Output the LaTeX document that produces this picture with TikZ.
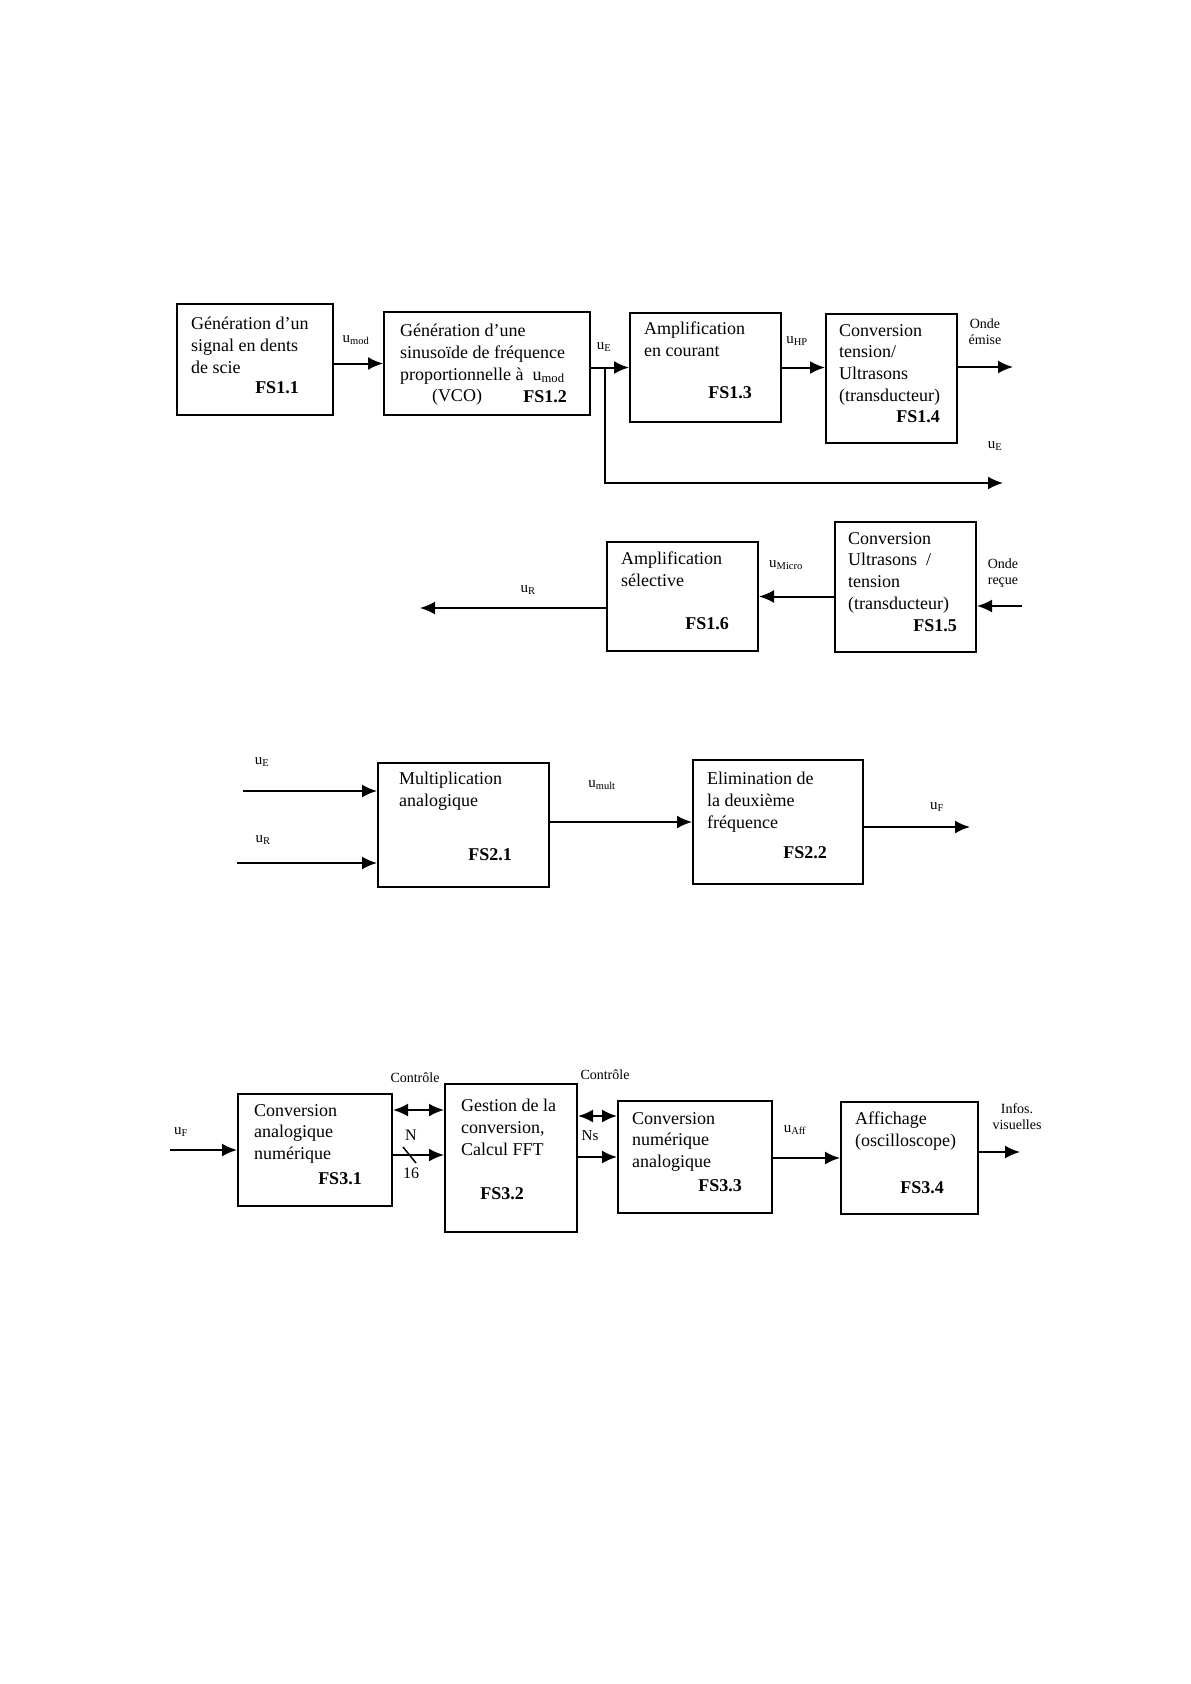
\documentclass[tikz,border=0pt]{standalone}
\usepackage{fontspec}
\setmainfont{Liberation Serif}
\usetikzlibrary{arrows.meta,positioning}

\begin{document}
\begin{tikzpicture}[x=1pt,y=-1pt,
  every node/.append style={inner sep=0pt},
  box/.style={draw,line width=2pt,rectangle},
  txt/.style={anchor=north west,align=left,font=\fontsize{18}{21.7}\selectfont},
  fs/.style={font=\fontsize{18}{21.7}\selectfont\bfseries},
  sig/.style={font=\fontsize{15}{16}\selectfont},
  lbl/.style={align=center,font=\fontsize{14}{16}\selectfont},
  arr/.style={line width=2pt,-{Latex[length=15pt,width=13pt]}},
  darr/.style={line width=2pt,{Latex[length=15pt,width=13pt]}-{Latex[length=15pt,width=13pt]}}]
\useasboundingbox (0,0) rectangle (1191,1684);
\node [box,minimum width=156pt,minimum height=111pt] (b11) at (255,359.5) {};
\node [txt] (b11t) at ([shift={(15,14)}]b11.north west) {Génération d'un\\signal en dents\\de scie};
\node [fs] (b11f) at (277,388) {FS1.1};
\node [box,minimum width=206pt,minimum height=103pt] (b12) at (487,363.5) {};
\node [txt] (b12t) at ([shift={(17,13)}]b12.north west) {Génération d'une\\sinusoïde de fréquence\\proportionnelle à~ u\textsubscript{mod}};
\node [txt,anchor=center] (b12v) at (457,397) {(VCO)};
\node [fs] (b12f) at (545,397) {FS1.2};
\node [box,minimum width=151pt,minimum height=109pt] (b13) at (705.5,367.5) {};
\node [txt] (b13t) at ([shift={(15,10)}]b13.north west) {Amplification\\en courant};
\node [fs] (b13f) at (730,393) {FS1.3};
\node [box,minimum width=131pt,minimum height=129pt] (b14) at (891.5,378.5) {};
\node [txt] (b14t) at ([shift={(14,11)}]b14.north west) {Conversion\\tension/\\Ultrasons\\(transducteur)};
\node [fs] (b14f) at (918,417) {FS1.4};
\node [box,minimum width=151pt,minimum height=109pt] (b16) at (682.5,596.5) {};
\node [txt] (b16t) at ([shift={(15,11)}]b16.north west) {Amplification\\sélective};
\node [fs] (b16f) at (707,624) {FS1.6};
\node [box,minimum width=141pt,minimum height=130pt] (b15) at (905.5,587) {};
\node [txt] (b15t) at ([shift={(14,11)}]b15.north west) {Conversion\\Ultrasons~~/\\tension\\(transducteur)};
\node [fs] (b15f) at (935,626) {FS1.5};
\node [box,minimum width=171pt,minimum height=124pt] (b21) at (463.5,825) {};
\node [txt] (b21t) at ([shift={(22,10)}]b21.north west) {Multiplication\\analogique};
\node [fs] (b21f) at (490,855) {FS2.1};
\node [box,minimum width=170pt,minimum height=124pt] (b22) at (778,822) {};
\node [txt] (b22t) at ([shift={(15,13)}]b22.north west) {Elimination de\\la deuxième\\fréquence};
\node [fs] (b22f) at (805,853) {FS2.2};
\node [box,minimum width=154pt,minimum height=112pt] (b31) at (315,1150) {};
\node [txt] (b31t) at ([shift={(17,11)}]b31.north west) {Conversion\\analogique\\numérique};
\node [fs] (b31f) at (340,1179) {FS3.1};
\node [box,minimum width=132pt,minimum height=148pt] (b32) at (511,1158) {};
\node [txt] (b32t) at ([shift={(17,16)}]b32.north west) {Gestion de la\\conversion,\\Calcul FFT};
\node [fs] (b32f) at (502,1194) {FS3.2};
\node [box,minimum width=154pt,minimum height=112pt] (b33) at (695,1157) {};
\node [txt] (b33t) at ([shift={(15,12)}]b33.north west) {Conversion\\numérique\\analogique};
\node [fs] (b33f) at (720,1186) {FS3.3};
\node [box,minimum width=137pt,minimum height=112pt] (b34) at (909.5,1158) {};
\node [txt] (b34t) at ([shift={(15,11)}]b34.north west) {Affichage\\(oscilloscope)};
\node [fs] (b34f) at (922,1188) {FS3.4};
\coordinate (emise) at (1013,367);
\coordinate (ueout) at (1003,483);
\coordinate (recue) at (1022,606);
\coordinate (urout) at (420,608);
\coordinate (ue2) at (243,791);
\coordinate (ur2) at (237,863);
\coordinate (uf2) at (970,827);
\coordinate (uf3) at (170,1150);
\coordinate (infos) at (1020,1152);
\draw [arr] (b11.east |- b12.west) -- (b12.west);
\draw [arr] (b12.east |- b13.west) -- (b13.west);
\draw [arr] ([xshift=14pt]b12.east |- b13.west) |- (ueout);
\draw [arr] (b13.east) -- (b13.east -| b14.west);
\draw [arr] (b14.east |- emise) -- (emise);
\draw [arr] (recue) -- (recue -| b15.east);
\draw [arr] (b15.west |- b16.east) -- (b16.east);
\draw [arr] (b16.west |- urout) -- (urout);
\draw [arr] (ue2) -- (ue2 -| b21.west);
\draw [arr] (ur2) -- (ur2 -| b21.west);
\draw [arr] (b21.east |- b22.west) -- (b22.west);
\draw [arr] (b22.east |- uf2) -- (uf2);
\draw [arr] (uf3) -- (uf3 -| b31.west);
\draw [darr] ([yshift=-17pt]b31.north east) -- ([yshift=-17pt]b31.north east -| b32.west);
\draw [arr] ([yshift=-5pt]b31.east) -- ([yshift=-5pt]b31.east -| b32.west);
\draw [line width=1.5pt] (403,1147) -- (416,1163);
\draw [darr] ([yshift=-16pt]b33.north west -| b32.east) -- ([yshift=-16pt]b33.north west);
\draw [arr] (b32.east |- b33.west) -- (b33.west);
\draw [arr] (b33.east |- b34.west) -- (b34.west);
\draw [arr] (b34.east |- infos) -- (infos);
\node [sig] (lmod) at (356,340) {u\textsubscript{mod}};
\node [sig] (le1) at (604,347) {u\textsubscript{E}};
\node [sig] (lhp) at (797,341) {u\textsubscript{HP}};
\node [lbl] (lemise) at (985,332) {Onde\\émise};
\node [sig] (le1b) at (995,446) {u\textsubscript{E}};
\node [lbl] (lrecue) at (1003,573) {Onde\\reçue};
\node [sig] (lmic) at (786,565) {u\textsubscript{Micro}};
\node [sig] (lr1) at (528,590) {u\textsubscript{R}};
\node [sig] (le2) at (262,762) {u\textsubscript{E}};
\node [sig] (lr2) at (263,840) {u\textsubscript{R}};
\node [sig] (lmult) at (602,785) {u\textsubscript{mult}};
\node [sig] (lf2) at (937,807) {u\textsubscript{F}};
\node [sig] (lf3) at (181,1132) {u\textsubscript{F}};
\node [lbl] (lctl1) at (415,1078) {Contrôle};
\node [lbl,font=\fontsize{16}{17}\selectfont] (ln) at (411,1135) {N};
\node [lbl,font=\fontsize{16}{17}\selectfont] (l16) at (411,1173) {16};
\node [lbl] (lctl2) at (605,1075) {Contrôle};
\node [lbl,font=\fontsize{15}{16}\selectfont] (lns) at (590,1136) {Ns};
\node [sig] (laff) at (795,1130) {u\textsubscript{Aff}};
\node [lbl] (linfos) at (1017,1117) {Infos.\\visuelles};
\end{tikzpicture}
\end{document}
